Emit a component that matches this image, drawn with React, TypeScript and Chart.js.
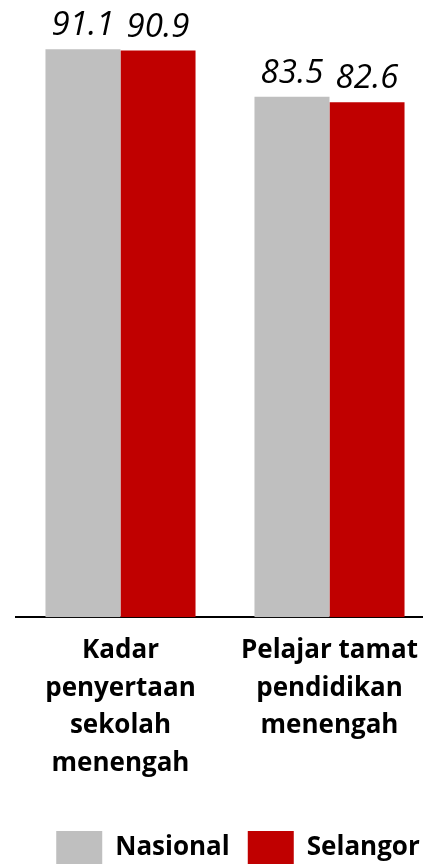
import React, { useEffect, useRef } from "react";
import { Chart, registerables } from "chart.js";

Chart.register(...registerables);

const categories: string[][] = [
  ["Kadar", "penyertaan", "sekolah", "menengah"],
  ["Pelajar tamat", "pendidikan", "menengah"],
];
const seriesNames = ["Nasional", "Selangor"];
const nasional = [91.1, 83.5];
const selangor = [90.9, 82.6];
const colors = ["#BFBFBF", "#C00000"];

const FONT = "'Open Sans', 'DejaVu Sans', sans-serif";

const valueLabels = {
  id: "valueLabels",
  afterDatasetsDraw(chart: any) {
    const ctx = chart.ctx;
    ctx.save();
    ctx.font = `italic 33px ${FONT}`;
    ctx.fillStyle = "#000";
    ctx.textAlign = "center";
    ctx.textBaseline = "alphabetic";
    chart.data.datasets.forEach((ds: any, i: number) => {
      const meta = chart.getDatasetMeta(i);
      meta.data.forEach((bar: any, j: number) => {
        ctx.fillText(ds.data[j].toFixed(1), bar.x, bar.y - 14);
      });
    });
    ctx.restore();
  },
};

export default function App() {
  const ref = useRef<HTMLCanvasElement>(null);
  useEffect(() => {
    if (!ref.current) return;
    const chart = new Chart(ref.current, {
      type: "bar",
      data: {
        labels: categories,
        datasets: [
          { label: seriesNames[0], data: nasional, backgroundColor: colors[0] },
          { label: seriesNames[1], data: selangor, backgroundColor: colors[1] },
        ],
      },
      options: {
        responsive: false,
        animation: false,
        events: [],
        layout: { padding: { left: 16, right: 16, top: 0, bottom: 0 } },
        datasets: { bar: { categoryPercentage: 0.718, barPercentage: 1 } },
        scales: {
          x: {
            grid: { display: false, drawTicks: false },
            border: { display: true, color: "#000", width: 2 },
            ticks: {
              color: "#000",
              padding: 15,
              maxRotation: 0,
              autoSkip: false,
              font: { family: FONT, size: 26, weight: "bold", lineHeight: 1.44 },
            },
            afterFit: (s: any) => {
              s.height += 16;
            },
          },
          y: {
            display: true,
            position: "right",
            min: 0,
            max: 99,
            grid: { display: false },
            border: { display: false },
            ticks: { display: false },
            afterFit: (s: any) => {
              s.width = 26;
            },
          },
        },
        plugins: {
          tooltip: { enabled: false },
          legend: {
            position: "bottom",
            labels: {
              boxWidth: 46,
              boxHeight: 33,
              padding: 18,
              color: "#000",
              font: { family: FONT, size: 26, weight: "bold" },
            },
          },
        },
      },
      plugins: [valueLabels],
    });
    return () => chart.destroy();
  }, []);
  return (
    <div style={{ position: "fixed", left: 0, top: 0, width: 423, height: 866, overflow: "hidden", background: "#fff" }}>
      <canvas ref={ref} width={476} height={874} style={{ position: "absolute", left: 0, top: 0 }} />
    </div>
  );
}
